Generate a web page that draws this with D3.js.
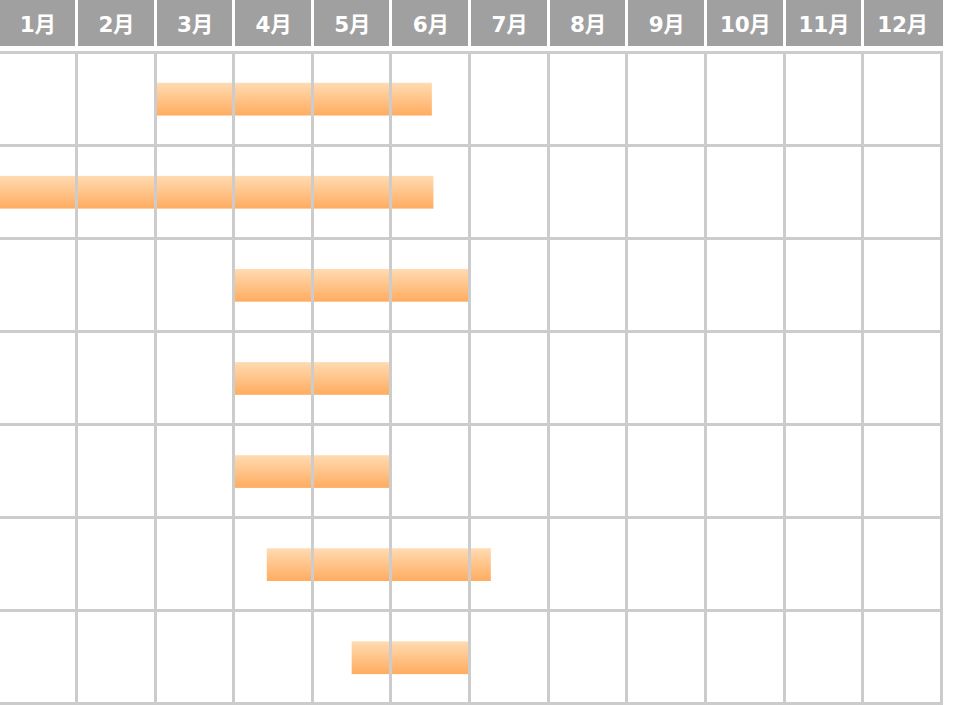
<!DOCTYPE html>
<html>
<head>
<meta charset="utf-8">
<script src="https://cdn.jsdelivr.net/npm/d3@7/dist/d3.min.js"></script>
<style>
  html, body { margin: 0; padding: 0; background: #ffffff; overflow: hidden; }
  svg { display: block; }
</style>
</head>
<body>
<svg id="chart" width="960" height="705"></svg>
<script>
// ---- data ----
const months = ["1月","2月","3月","4月","5月","6月","7月","8月","9月","10月","11月","12月"];
const tasks = ["t1","t2","t3","t4","t5","t6","t7"];
const taskStart = [2, 0, 3, 3, 3, 3.42, 4.5];   // months elapsed since Jan 1
const taskEnd   = [5.52, 5.54, 6, 5, 5, 6.27, 6];

// ---- layout ----
const svg = d3.select("#chart");
const x = d3.scaleLinear().domain([0, 12]).range([-2.1, 941.3]);
const y = d3.scaleBand().domain(tasks).range([52, 703.7]).paddingInner(0).paddingOuter(0);
const lineW = 3;
const barH = 32.7;

const defs = svg.append("defs");
const grad = defs.append("linearGradient").attr("id", "barGrad")
  .attr("x1", 0).attr("y1", 0).attr("x2", 0).attr("y2", 1);
grad.append("stop").attr("offset", "0%").attr("stop-color", "#ffdbb2");
grad.append("stop").attr("offset", "100%").attr("stop-color", "#ffac5f");

// header cells
const header = svg.append("g");
header.selectAll("rect").data(months).join("rect")
  .attr("x", (d, i) => x(i) + lineW / 2)
  .attr("y", 0)
  .attr("width", (d, i) => (x(i + 1) - x(i)) - (i === 11 ? 0 : lineW))
  .attr("height", 45.7)
  .attr("fill", "#a0a0a0")
  .attr("shape-rendering", "crispEdges");
header.selectAll("text").data(months).join("text")
  .attr("x", (d, i) => (x(i) + x(i + 1)) / 2 + 0.5)
  .attr("y", 31.5)
  .attr("text-anchor", "middle")
  .attr("fill", "#ffffff")
  .attr("font-family", "'DejaVu Sans', 'Noto Sans CJK JP', sans-serif")
  .attr("font-weight", "bold")
  .attr("font-size", "21.5px")
  .attr("letter-spacing", "-0.3px")
  .text(d => d);

// bars
svg.append("g").selectAll("rect").data(tasks).join("rect")
  .attr("x", (d, i) => x(taskStart[i]))
  .attr("y", d => y(d) + (y.bandwidth() - barH) / 2 + 0.6)
  .attr("width", (d, i) => x(taskEnd[i]) - x(taskStart[i]))
  .attr("height", barH)
  .attr("fill", "url(#barGrad)");

// grid lines (drawn over bars)
const grid = svg.append("g").attr("stroke", "#cccccc").attr("stroke-width", lineW)
  .attr("shape-rendering", "crispEdges");
const rowLines = tasks.map(d => y(d)).concat([y.range()[1]]);
grid.selectAll("line.h").data(rowLines).join("line").attr("class", "h")
  .attr("x1", x(0)).attr("x2", x(12) + lineW / 2)
  .attr("y1", d => d).attr("y2", d => d);
grid.selectAll("line.v").data(d3.range(1, 13)).join("line").attr("class", "v")
  .attr("x1", d => x(d)).attr("x2", d => x(d))
  .attr("y1", y.range()[0]).attr("y2", y.range()[1] + lineW / 2);
</script>
</body>
</html>
